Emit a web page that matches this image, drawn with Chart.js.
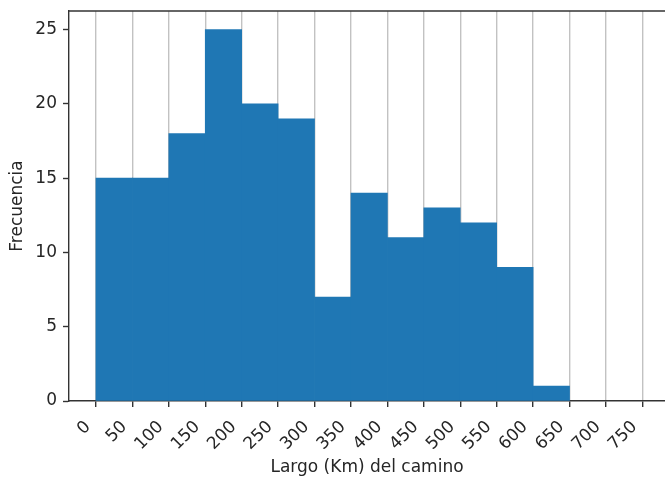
<!DOCTYPE html>
<html>
<head>
<meta charset="utf-8">
<script src="https://cdn.jsdelivr.net/npm/chart.js@4/dist/chart.umd.min.js"></script>
<style>
  html, body { margin: 0; padding: 0; background: #fff; }
  canvas { display: block; }
</style>
</head>
<body>
<canvas id="hist" width="665" height="478"></canvas>
<script>
// Histogram of road lengths: bins are 50 km wide
const binStarts = [0, 50, 100, 150, 200, 250, 300, 350, 400, 450, 500, 550, 600];
const binWidth = 50;
const frequencies = [15, 15, 18, 25, 20, 19, 7, 14, 11, 13, 12, 9, 1];
const xTicks = [0, 50, 100, 150, 200, 250, 300, 350, 400, 450, 500, 550, 600, 650, 700, 750];
const yTicks = [0, 5, 10, 15, 20, 25];
const xTitle = 'Largo (Km) del camino';
const yTitle = 'Frecuencia';

const FONT = { family: 'DejaVu Sans', size: 17 };
const INK = '#262626';
const SPINE = '#333333';

// bars sit at the middle of each bin on a linear x axis
const points = binStarts.map((s, i) => ({ x: s + binWidth / 2, y: frequencies[i] }));

// top frame line of the plot box
const topSpine = {
  id: 'topSpine',
  afterDraw(chart) {
    const { ctx, chartArea } = chart;
    ctx.save();
    ctx.strokeStyle = SPINE;
    ctx.lineWidth = 1.4;
    ctx.beginPath();
    ctx.moveTo(chartArea.left - 0.7, chartArea.top);
    ctx.lineTo(chart.width, chartArea.top);
    ctx.stroke();
    ctx.restore();
  }
};

// the plot box is placed by the fixed axis sizes and the layout padding only
const noEdgePadding = s => {
  s.paddingTop = 0; s.paddingBottom = 0; s.paddingLeft = 0; s.paddingRight = 0;
};

new Chart(document.getElementById('hist'), {
  type: 'bar',
  data: {
    datasets: [{
      data: points,
      backgroundColor: '#1f77b4',
      borderWidth: 0,
      barPercentage: 1.0,
      categoryPercentage: 1.0
    }]
  },
  options: {
    responsive: false,
    animation: false,
    layout: { padding: { top: 11, left: 0, right: 0, bottom: 0 } },
    plugins: { legend: { display: false }, tooltip: { enabled: false } },
    scales: {
      x: {
        type: 'linear',
        min: -37,
        max: 781,
        offset: false,
        z: 1,
        afterBuildTicks: s => { s.ticks = xTicks.map(v => ({ value: v })); },
        afterFit: s => { s.height = 77; noEdgePadding(s); },
        grid: {
          offset: false,
          color: '#c2c2c2',
          lineWidth: 1.4,
          drawTicks: true,
          tickLength: 6,
          tickColor: SPINE,
          tickWidth: 1.4
        },
        border: { display: true, color: SPINE, width: 1.4 },
        ticks: {
          autoSkip: false,
          minRotation: 45,
          maxRotation: 45,
          padding: 10,
          labelOffset: -8,
          color: INK,
          font: FONT,
          callback: v => String(v)
        },
        title: {
          display: true,
          text: xTitle,
          color: INK,
          font: FONT,
          padding: { top: 0, bottom: 0 }
        }
      },
      y: {
        min: 0,
        max: 26.25,
        afterBuildTicks: s => { s.ticks = yTicks.map(v => ({ value: v })); },
        afterFit: s => { s.width = 69; noEdgePadding(s); },
        grid: {
          drawOnChartArea: false,
          drawTicks: true,
          tickLength: 6,
          tickColor: SPINE,
          tickWidth: 1.4
        },
        border: { display: true, color: SPINE, width: 1.4 },
        ticks: {
          padding: 6,
          color: INK,
          font: FONT,
          callback: v => String(v)
        },
        title: {
          display: true,
          text: yTitle,
          color: INK,
          font: FONT,
          padding: { top: 7, bottom: 7 }
        }
      }
    }
  },
  plugins: [topSpine]
});
</script>
</body>
</html>
